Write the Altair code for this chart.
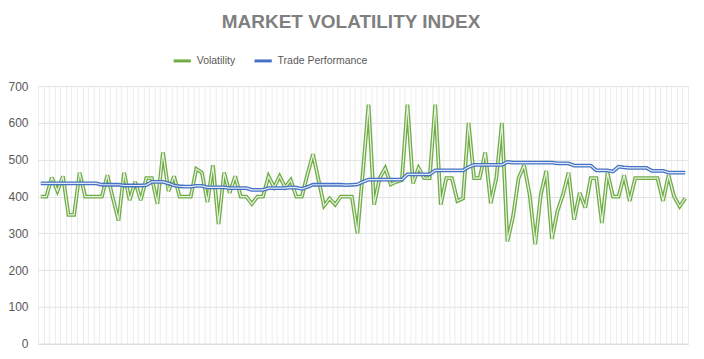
import altair as alt
import pandas as pd

volatility = [400, 400, 452, 415, 455, 350, 350, 465, 400, 400,
              400, 400, 458, 395, 335, 465, 390, 440, 390, 450,
              450, 380, 520, 415, 455, 400, 400, 400, 475, 465,
              385, 485, 325, 465, 410, 455, 400, 400, 380, 400,
              400, 455, 425, 455, 425, 445, 400, 400, 460, 515,
              445, 375, 395, 378, 400, 400, 400, 300, 470, 650,
              378, 450, 477, 433, 440, 445, 650, 436, 478, 450,
              450, 650, 378, 450, 450, 388, 395, 600, 450, 450,
              520, 382, 450, 600, 278, 345, 450, 485, 405, 270,
              405, 470, 285, 360, 405, 465, 337, 410, 370, 450,
              450, 328, 465, 400, 400, 458, 388, 450, 450, 450,
              450, 450, 388, 458, 400, 373, 395]

trade = [436, 436, 436, 436, 436, 436, 436, 436, 436, 436,
         436, 432, 432, 432, 432, 430, 430, 430, 430, 431,
         440, 440, 440, 436, 430, 428, 427, 427, 429, 429,
         425, 425, 425, 425, 423, 423, 423, 423, 418, 418,
         418, 423, 423, 423, 423, 425, 424, 421, 426, 432,
         432, 432, 432, 432, 432, 431, 432, 433, 440, 446,
         446, 446, 446, 446, 446, 446, 460, 460, 460, 460,
         460, 471, 471, 471, 471, 471, 471, 480, 486, 486,
         486, 486, 486, 486, 494, 492, 492, 492, 492, 492,
         492, 492, 492, 490, 490, 490, 484, 484, 484, 484,
         471, 471, 471, 468, 481, 479, 478, 478, 478, 478,
         470, 470, 470, 465, 465, 465, 465]

series_names = ["Volatility", "Trade Performance"]
colors = ["#70ad47", "#4472c4"]
y_ticks = [0, 100, 200, 300, 400, 500, 600, 700]

n = len(volatility)
rows = []
for i in range(n):
    rows.append({"idx": i, "series": series_names[0], "value": volatility[i]})
for i in range(n):
    rows.append({"idx": i, "series": series_names[1], "value": trade[i]})
df = pd.DataFrame(rows)

grid_vals = [k - 0.5 for k in range(n + 1)]

x_enc = alt.X("idx:Q", scale=alt.Scale(domain=[-0.5, n - 0.5], nice=False, zero=False),
              axis=alt.Axis(values=grid_vals, labels=False, ticks=False, title=None,
                            grid=True, gridColor="#ececec", gridWidth=1,
                            domainColor="#d9d9d9"))
y_enc = alt.Y("value:Q", scale=alt.Scale(domain=[0, 700], nice=False),
              axis=alt.Axis(values=y_ticks, title=None, ticks=False, domain=False,
                            gridColor="#e3e3e3", labelColor="#595959", labelFontSize=12,
                            labelFont="Liberation Sans", labelPadding=10))

base = alt.Chart(df)

def series_layers(name):
    d = base.transform_filter(alt.datum.series == name)
    outer = d.mark_line(strokeWidth=3.8, strokeJoin="miter", strokeMiterLimit=3).encode(
        x=x_enc, y=y_enc,
        color=alt.Color("series:N",
                        scale=alt.Scale(domain=series_names, range=colors),
                        legend=alt.Legend(title=None, orient="none", direction="horizontal",
                                          legendX=134, legendY=-36,
                                          symbolType="stroke", symbolSize=300,
                                          symbolStrokeWidth=3, labelFontSize=10.5,
                                          labelColor="#595959", labelFont="Liberation Sans",
                                          columnPadding=12, labelOffset=4)),
        order="idx:Q")
    inner = d.mark_line(strokeWidth=1.2, color="#ffffff", opacity=0.85,
                        strokeJoin="miter", strokeMiterLimit=3).encode(
        x=x_enc, y=y_enc, order="idx:Q")
    return [outer, inner]

layers = series_layers(series_names[0]) + series_layers(series_names[1])

chart = alt.layer(*layers).properties(
    width=651, height=258,
    autosize=alt.AutoSizeParams(type="none"),
    padding={"left": 30, "top": 78, "right": 8, "bottom": 8},
    title=alt.TitleParams("MARKET VOLATILITY INDEX", fontSize=19, fontWeight="bold",
                          color="#7f7f7f", font="Liberation Sans",
                          anchor="middle", dx=-12, offset=18)
).configure_view(stroke=None)

chart.save("out.html", embed_options={"renderer": "svg", "actions": False})
